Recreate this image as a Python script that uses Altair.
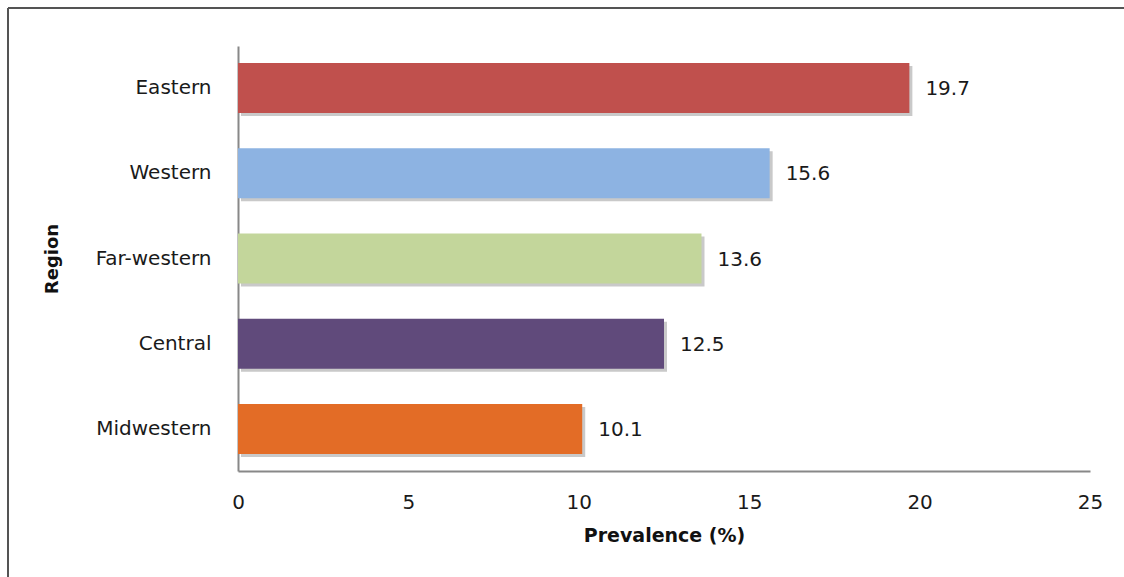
import altair as alt
import pandas as pd

regions = ["Eastern", "Western", "Far-western", "Central", "Midwestern"]
prevalence = [19.7, 15.6, 13.6, 12.5, 10.1]
colors = ["#C0504D", "#8DB3E2", "#C3D69B", "#604A7B", "#E36C26"]
x_ticks = [0, 5, 10, 15, 20, 25]

df = pd.DataFrame({"Region": regions, "Prevalence": prevalence})

FONT = "DejaVu Sans"
W, H = 852, 425
L, T = 238, 46

y_enc = alt.Y("Region:N", sort=regions,
              scale=alt.Scale(paddingInner=0.415, paddingOuter=0.2),
              axis=alt.Axis(title="Region", titleFont=FONT, titleFontSize=18, titleFontWeight="bold",
                            titleColor="#111", titlePadding=34,
                            labelFont=FONT, labelFontSize=20, labelColor="#1a1a1a", labelPadding=27,
                            ticks=False, tickSize=0, domainColor="#888888", domainWidth=2, grid=False))
x_enc = alt.X("Prevalence:Q", scale=alt.Scale(domain=[0, 25], nice=False),
              axis=alt.Axis(title="Prevalence (%)", values=x_ticks, titleFont=FONT, titleFontSize=19,
                            titleFontWeight="bold", titleColor="#111", titlePadding=14,
                            labelFont=FONT, labelFontSize=20, labelColor="#1a1a1a", labelPadding=21,
                            ticks=False, tickSize=0, domainColor="#888888", domainWidth=2, grid=False,
                            labelFlush=False))

shadow = alt.Chart(df).mark_bar(color="#888888", opacity=0.45, xOffset=3, yOffset=3).encode(
    x=x_enc, y=y_enc)

bars = alt.Chart(df).mark_bar().encode(
    x=x_enc, y=y_enc,
    color=alt.Color("Region:N", sort=regions,
                    scale=alt.Scale(domain=regions, range=colors), legend=None))

labels = alt.Chart(df).mark_text(align="left", baseline="middle", dx=16, dy=1, font=FONT,
                                 fontSize=20, color="#1a1a1a").encode(
    x=x_enc, y=y_enc, text=alt.Text("Prevalence:Q", format=".1f"))

border_left = alt.Chart(df).mark_rule(color="#555555", strokeWidth=1.5).encode(
    x=alt.value(8 - L), y=alt.value(8 - T), y2=alt.value(577 - T))
border_top = alt.Chart(df).mark_rule(color="#555555", strokeWidth=1.5).encode(
    x=alt.value(8 - L), x2=alt.value(1124 - L), y=alt.value(8 - T))

chart = alt.layer(shadow, bars, labels, border_left, border_top).properties(
    width=W, height=H,
    autosize=alt.AutoSizeParams(type="none"),
    padding={"left": L, "top": T, "right": 1124 - L - W, "bottom": 577 - T - H},
    background="white",
).configure_view(stroke=None)

chart.save("out.html", embed_options={"renderer": "svg", "actions": False})
